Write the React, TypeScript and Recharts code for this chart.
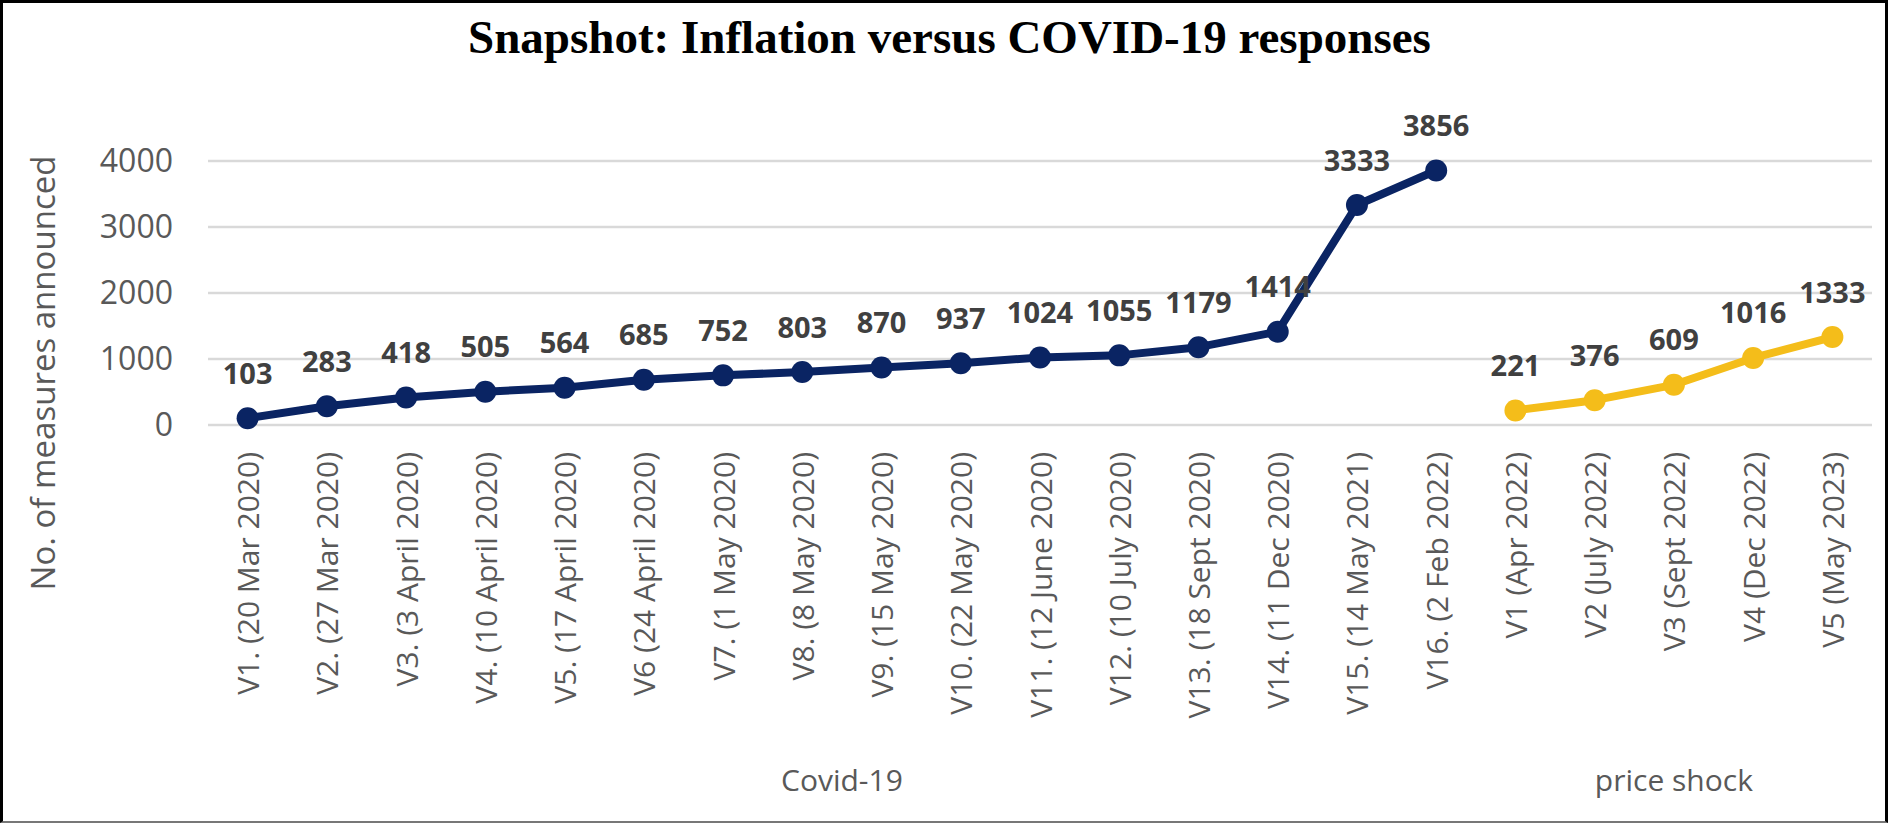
import React from "react";
import { CartesianGrid, LabelList, Line, LineChart, XAxis, YAxis } from "recharts";

const covidLabels = [
  "V1. (20 Mar 2020)",
  "V2. (27 Mar 2020)",
  "V3. (3 April 2020)",
  "V4. (10 April 2020)",
  "V5. (17 April 2020)",
  "V6 (24 April 2020)",
  "V7. (1 May 2020)",
  "V8. (8 May 2020)",
  "V9. (15 May 2020)",
  "V10. (22 May 2020)",
  "V11. (12 June 2020)",
  "V12. (10 July 2020)",
  "V13. (18 Sept 2020)",
  "V14. (11 Dec 2020)",
  "V15. (14 May 2021)",
  "V16. (2 Feb 2022)"
];
const priceShockLabels = [
  "V1 (Apr 2022)",
  "V2 (July 2022)",
  "V3 (Sept 2022)",
  "V4 (Dec 2022)",
  "V5 (May 2023)"
];
const covidValues = [103, 283, 418, 505, 564, 685, 752, 803, 870, 937, 1024, 1055, 1179, 1414, 3333, 3856];
const priceShockValues = [221, 376, 609, 1016, 1333];
const groupNames = ["Covid-19", "price shock"];
const yTicks = [0, 1000, 2000, 3000, 4000];

const W = 1888;
const H = 823;
const PLOT_LEFT = 208;
const PLOT_RIGHT = 1872;
const PLOT_TOP = 161;
const PLOT_BOTTOM = 425;
const XAXIS_H = 300;

const NAVY = "#0a2463";
const GOLD = "#f4bd1a";
const GREY = "#595959";
const FONT = "'Open Sans', sans-serif";

const categories = [...covidLabels, ...priceShockLabels];
const data = categories.map((label, i) => ({
  label,
  covid: i < covidValues.length ? covidValues[i] : null,
  price: i >= covidValues.length ? priceShockValues[i - covidValues.length] : null
}));

const band = (PLOT_RIGHT - PLOT_LEFT) / categories.length;
const groupSizes = [covidLabels.length, priceShockLabels.length];
const groupCenters = groupSizes.map((n, g) => {
  const start = groupSizes.slice(0, g).reduce((a, b) => a + b, 0);
  return PLOT_LEFT + band * (start + n / 2);
});

const XTick = (props: any) => {
  const { x, y, payload } = props;
  return (
    <g transform={`translate(${x},${y + 27})`}>
      <text
        transform="rotate(-90)"
        textAnchor="end"
        dominantBaseline="central"
        fontFamily={FONT}
        fontSize={30}
        fill={GREY}
      >
        {payload.value}
      </text>
    </g>
  );
};

const pointLabel = (props: any) => {
  const { value } = props;
  if (value == null) return null;
  const x = props.x ?? props.viewBox?.x;
  const y = props.y ?? props.viewBox?.y;
  return (
    <text
      x={x}
      y={y - 46}
      textAnchor="middle"
      dominantBaseline="central"
      fontFamily={FONT}
      fontWeight="bold"
      fontSize={29}
      fill="#404040"
    >
      {value}
    </text>
  );
};

export default function App() {
  return (
    <div style={{ position: "absolute", left: 0, top: 0, width: W, height: H, background: "#fff" }}>
      <LineChart
        width={W}
        height={H}
        data={data}
        margin={{ top: PLOT_TOP, right: W - PLOT_RIGHT, left: 0, bottom: H - PLOT_BOTTOM - XAXIS_H }}
      >
        <CartesianGrid vertical={false} stroke="#d9d9d9" strokeWidth={2.5} />
        <XAxis
          dataKey="label"
          interval={0}
          height={XAXIS_H}
          axisLine={false}
          tickLine={false}
          tickSize={0}
          tickMargin={0}
          padding={{ left: band / 2, right: band / 2 }}
          tick={<XTick />}
        />
        <YAxis
          width={PLOT_LEFT}
          domain={[0, 4000]}
          ticks={yTicks}
          axisLine={false}
          tickLine={false}
          tickSize={0}
          tickMargin={35}
          tick={{ fontFamily: FONT, fontSize: 32, fill: GREY }}
        />
        <Line
          dataKey="covid"
          stroke={NAVY}
          strokeWidth={8}
          strokeLinejoin="round"
          dot={{ r: 11, fill: NAVY, stroke: NAVY, strokeWidth: 0 }}
          activeDot={false}
          isAnimationActive={false}
        >
          <LabelList dataKey="covid" content={pointLabel} />
        </Line>
        <Line
          dataKey="price"
          stroke={GOLD}
          strokeWidth={8}
          strokeLinejoin="round"
          dot={{ r: 11, fill: GOLD, stroke: GOLD, strokeWidth: 0 }}
          activeDot={false}
          isAnimationActive={false}
        >
          <LabelList dataKey="price" content={pointLabel} />
        </Line>
      </LineChart>
      <svg width={W} height={H} style={{ position: "absolute", left: 0, top: 0, pointerEvents: "none" }}>
        <text
          x={949.5}
          y={53}
          textAnchor="middle"
          fontFamily="'Liberation Serif', 'Times New Roman', serif"
          fontWeight="bold"
          fontSize={47}
          fill="#000"
        >
          Snapshot: Inflation versus COVID-19 responses
        </text>
        <text
          transform="translate(55,373) rotate(-90)"
          textAnchor="middle"
          fontFamily={FONT}
          fontSize={33}
          fill={GREY}
        >
          No. of measures announced
        </text>
        {groupNames.map((name, g) => (
          <text key={name} x={groupCenters[g]} y={791} textAnchor="middle" fontFamily={FONT} fontSize={30} fill={GREY}>
            {name}
          </text>
        ))}
      </svg>
      <div
        style={{
          position: "absolute",
          left: 0,
          top: 0,
          width: W,
          height: H,
          boxSizing: "border-box",
          border: "3px solid #000",
          borderBottom: "2px solid #777",
          pointerEvents: "none"
        }}
      />
    </div>
  );
}
